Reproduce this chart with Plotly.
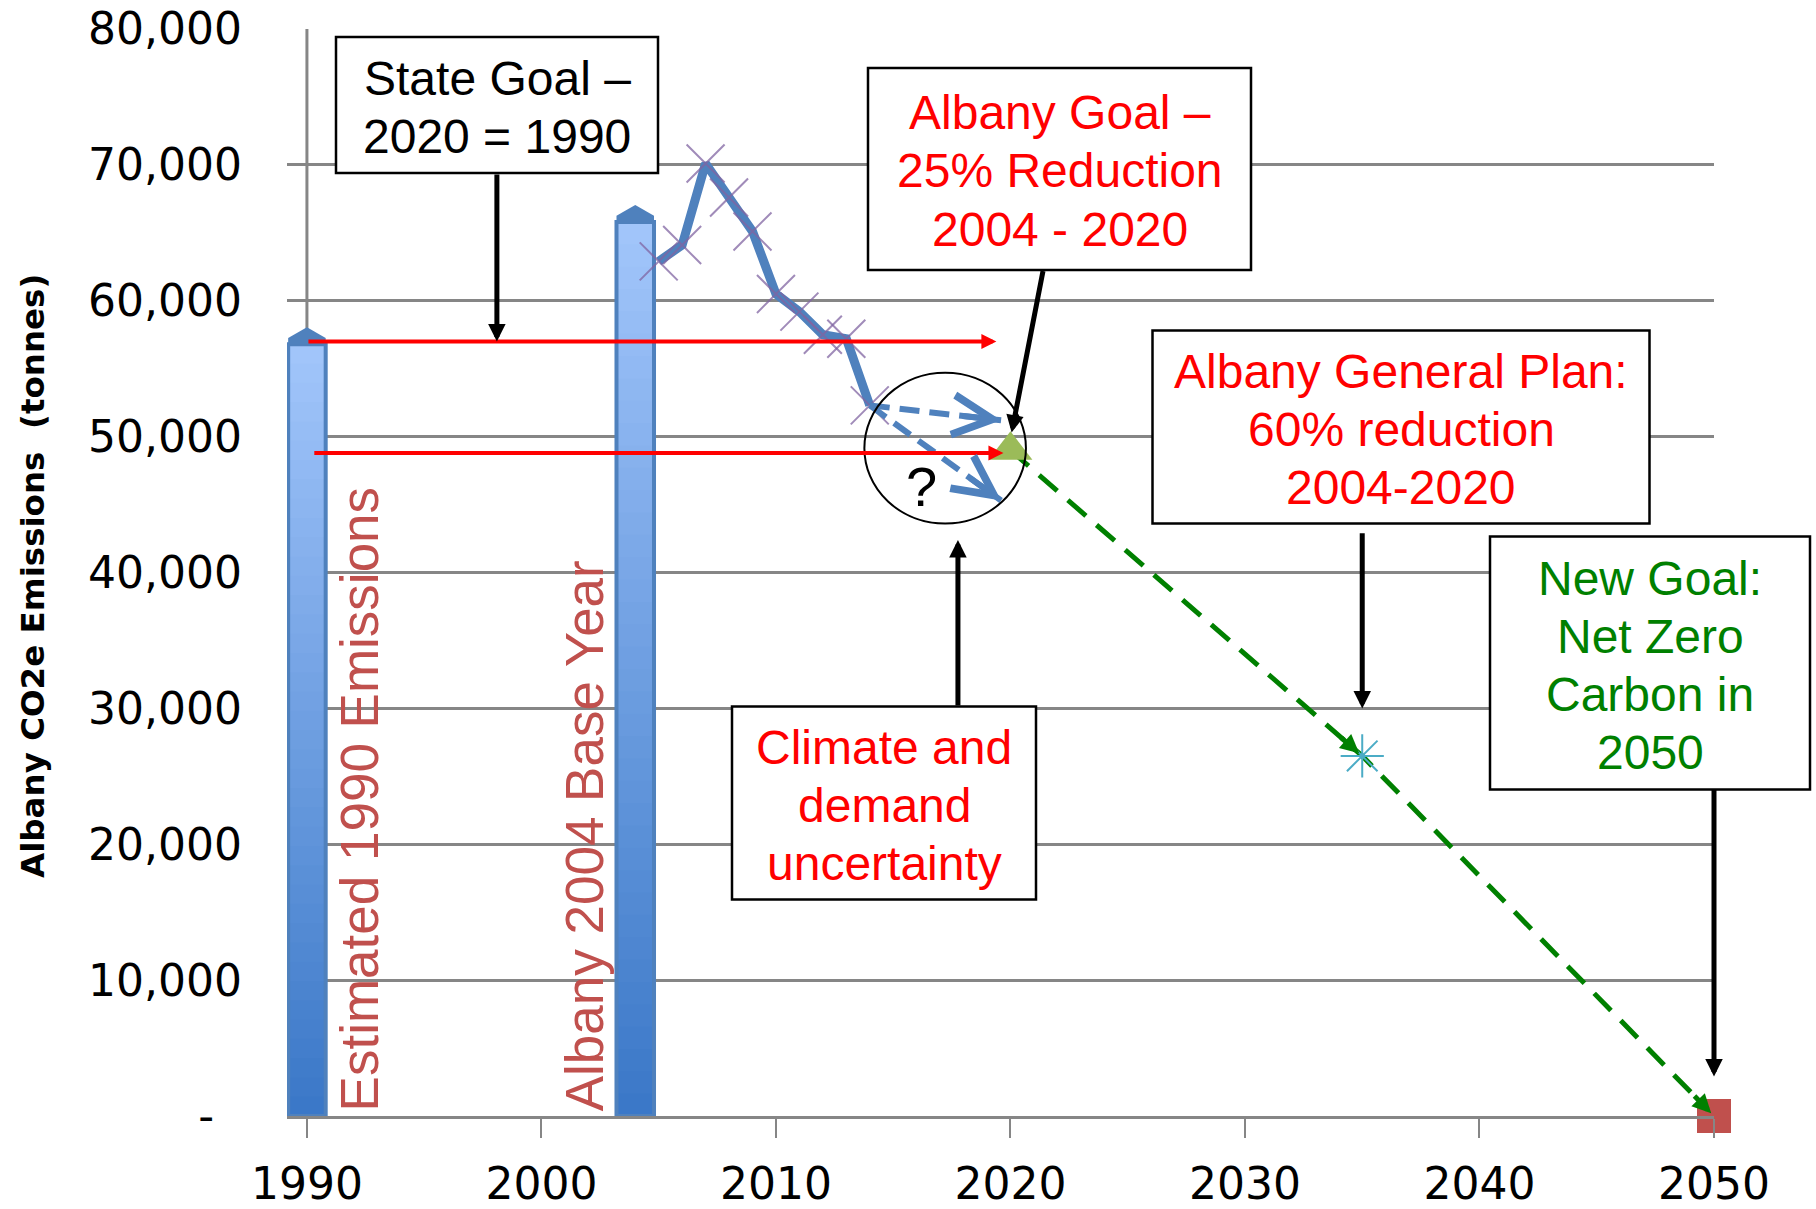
import math
import plotly.graph_objects as go

# ---------------- data ----------------
bar_years = [1990, 2004]
bar_values = [56800, 65800]

hist_years = [2005, 2006, 2007, 2008, 2009, 2010, 2011, 2012, 2013, 2014]
hist_values = [62900, 64100, 70100, 67600, 65100, 60500, 59200, 57500, 57200, 52300]

goal_years = [2020, 2035, 2050]
goal_values = [49000, 26500, 0]

state_goal_level = 57000        # 2020 = 1990 level
albany_goal_level = 48800       # 25% below 2004
proj_end_year = 2019.6
proj_high = 51200
proj_low = 45300

x_ticks = [1990, 2000, 2010, 2020, 2030, 2040, 2050]
y_ticks = [0, 10000, 20000, 30000, 40000, 50000, 60000, 70000, 80000]
y_ticktext = ["-\u00a0\u00a0"] + [f"{v:,}" for v in y_ticks[1:]]

# ---------------- layout geometry (pixels) ----------------
W, H = 1816, 1209
L, R, T, B = 287, 1714, 29, 1116
X_RANGE = [1989.15, 2050]
Y_RANGE = [0, 80000]
PX_PER_X = (R - L) / (X_RANGE[1] - X_RANGE[0])
PX_PER_Y = (B - T) / (Y_RANGE[1] - Y_RANGE[0])


def pxx(p):
    return (p - L) / (R - L)


def pxy(p):
    return (B - p) / (B - T)


fig = go.Figure()

# gradient bars built from stacked slices
N = 40
top_rgb = (162, 198, 251)
bot_rgb = (58, 119, 199)
bar_w = 1.6
for i in range(N):
    f = (i + 0.5) / N
    c = tuple(int(round(bot_rgb[k] + (top_rgb[k] - bot_rgb[k]) * f)) for k in range(3))
    h = 1.0 if i == N - 1 else 1.6
    fig.add_trace(go.Bar(
        x=bar_years, y=[v / N * h for v in bar_values], base=[v * i / N for v in bar_values],
        width=bar_w, marker=dict(color=f"rgb{c}", line=dict(width=0)),
        hoverinfo="skip", showlegend=False))
fig.add_trace(go.Bar(
    x=bar_years, y=bar_values, width=bar_w,
    marker=dict(color="rgba(0,0,0,0)", line=dict(color="#4f81bd", width=4)),
    hoverinfo="skip", showlegend=False))
# bevel caps on bar tops
for bx, bv in zip(bar_years, bar_values):
    fig.add_trace(go.Scatter(
        x=[bx - bar_w / 2, bx - bar_w / 2, bx, bx + bar_w / 2, bx + bar_w / 2],
        y=[bv, bv + 450, bv + 1250, bv + 450, bv],
        fill="toself", fillcolor="#4f81bd", mode="lines", line=dict(width=0, color="#4f81bd"),
        hoverinfo="skip", showlegend=False))

# historic line
fig.add_trace(go.Scatter(
    x=hist_years, y=hist_values, mode="lines+markers",
    line=dict(color="#4f81bd", width=9),
    marker=dict(symbol="x-thin-open", size=38, color="rgba(128,100,162,0.75)",
                line=dict(color="rgba(128,100,162,0.75)", width=2)),
    cliponaxis=False, showlegend=False))

# projection dashed lines
for end_v in (proj_high, proj_low):
    fig.add_trace(go.Scatter(
        x=[hist_years[-1], proj_end_year], y=[hist_values[-1], end_v], mode="lines",
        line=dict(color="#4f81bd", width=6, dash="20px,10px"), showlegend=False))

# goal line
fig.add_trace(go.Scatter(
    x=goal_years, y=goal_values, mode="lines",
    line=dict(color="#008000", width=5, dash="24px,14px"), cliponaxis=False, showlegend=False))
fig.add_trace(go.Scatter(
    x=[goal_years[0]], y=[goal_values[0]], mode="markers",
    marker=dict(symbol="triangle-up", size=38, color="#9bbb59"), cliponaxis=False, showlegend=False))
fig.add_trace(go.Scatter(
    x=[goal_years[1]], y=[goal_values[1]], mode="markers",
    marker=dict(symbol="asterisk-open", size=36, color="#4bacc6", line=dict(color="#4bacc6", width=2)),
    cliponaxis=False, showlegend=False))
fig.add_trace(go.Scatter(
    x=[goal_years[2]], y=[goal_values[2]], mode="markers",
    marker=dict(symbol="square", size=34, color="#c0504d"), cliponaxis=False, showlegend=False))

ann = []


def head_only(x1, y1, x0, y0, px_len):
    """tail point a fixed pixel distance back from the tip along the segment"""
    dxp = (x1 - x0) * PX_PER_X
    dyp = (y1 - y0) * PX_PER_Y
    seg = math.hypot(dxp, dyp)
    f = min(1.0, px_len / seg)
    return x1 - f * (x1 - x0), y1 - f * (y1 - y0)


# red level arrows
ann.append(dict(x=2019.4, y=state_goal_level, ax=bar_years[0], ay=state_goal_level,
                xref="x", yref="y", axref="x", ayref="y", text="", showarrow=True,
                arrowhead=2, arrowsize=0.75, arrowwidth=4, arrowcolor="#ff0000"))
ann.append(dict(x=2019.7, y=albany_goal_level, ax=bar_years[0] + 0.25, ay=albany_goal_level,
                xref="x", yref="y", axref="x", ayref="y", text="", showarrow=True,
                arrowhead=2, arrowsize=0.75, arrowwidth=4, arrowcolor="#ff0000"))

# projection arrow heads
for end_v in (proj_high, proj_low):
    tx, ty = head_only(proj_end_year, end_v, hist_years[-1], hist_values[-1], 40)
    ann.append(dict(x=proj_end_year, y=end_v, ax=tx, ay=ty,
                    xref="x", yref="y", axref="x", ayref="y", text="", showarrow=True,
                    arrowhead=5, arrowsize=1.3, arrowwidth=6, arrowcolor="#4f81bd"))

# goal line arrow heads
for i in (1, 2):
    tx, ty = head_only(goal_years[i], goal_values[i], goal_years[i - 1], goal_values[i - 1], 30)
    ann.append(dict(x=goal_years[i], y=goal_values[i], ax=tx, ay=ty,
                    xref="x", yref="y", axref="x", ayref="y", text="", showarrow=True,
                    arrowhead=2, arrowsize=0.75, arrowwidth=5, arrowcolor="#008000", standoff=4))

# black pointer arrows (tail at text box, tip at target)
black_arrows = [
    (1998.1, 69400, 1998.1, state_goal_level),
    (2021.4, 62300, 2020.05, 50300),
    (goal_years[1], 43000, goal_years[1], 30000),
    (goal_years[2], 24100, goal_years[2], 2900),
    (2017.76, 30100, 2017.76, 42400),
]
for tx, ty, hx, hy in black_arrows:
    ann.append(dict(x=hx, y=hy, ax=tx, ay=ty, xref="x", yref="y", axref="x", ayref="y",
                    text="", showarrow=True, arrowhead=2, arrowsize=0.7, arrowwidth=5,
                    arrowcolor="#000000"))

# text boxes: rectangle shape + one annotation per line
FONT = "Liberation Sans, Arial, sans-serif"
LINE_GAP = 58
boxes = [
    (["State Goal \u2013", "2020 = 1990"], "#000000", 497, 105, 322, 136),
    (["Albany Goal \u2013", "25% Reduction", "2004 - 2020"], "#ff0000", 1059.5, 169, 383, 202),
    (["Albany General Plan:", "60% reduction", "2004-2020"], "#ff0000", 1401, 427, 497, 193),
    (["New Goal:", "Net Zero", "Carbon in", "2050"], "#008000", 1650, 663, 320, 253),
    (["Climate and", "demand", "uncertainty"], "#ff0000", 884, 803, 304, 193),
]
shapes = [
    dict(type="line", xref="x", yref="y", x0=x_ticks[0], x1=x_ticks[0], y0=y_ticks[0], y1=y_ticks[-1],
         line=dict(color="#868686", width=3), layer="below"),
    dict(type="circle", xref="x", yref="y", x0=2013.77, x1=2020.66, y0=43600, y1=54700,
         line=dict(color="#000000", width=2), layer="above"),
]
for lines, col, cx, cy, bw, bh in boxes:
    shapes.append(dict(type="rect", xref="paper", yref="paper",
                       x0=pxx(cx - bw / 2), x1=pxx(cx + bw / 2), y0=pxy(cy + bh / 2), y1=pxy(cy - bh / 2),
                       fillcolor="#ffffff", line=dict(color="#000000", width=2.5), layer="above"))
    n = len(lines)
    for i, ln in enumerate(lines):
        ly = cy + (i - (n - 1) / 2) * LINE_GAP + 2
        ann.append(dict(x=pxx(cx), y=pxy(ly), xref="paper", yref="paper", text=ln,
                        showarrow=False, xanchor="center", yanchor="middle",
                        font=dict(family=FONT, size=48, color=col)))

# rotated bar labels
ann.append(dict(x=bar_years[0] + 2.26, y=0, xref="x", yref="y", yshift=3,
                text="Estimated 1990 Emissions", textangle=-90, showarrow=False,
                xanchor="center", yanchor="bottom",
                font=dict(family=FONT, size=53, color="#c0504d")))
ann.append(dict(x=bar_years[1] - 2.15, y=0, xref="x", yref="y", yshift=3,
                text="Albany 2004 Base Year", textangle=-90, showarrow=False,
                xanchor="center", yanchor="bottom",
                font=dict(family=FONT, size=53, color="#c0504d")))

# question mark
ann.append(dict(x=2016.2, y=46300, xref="x", yref="y", text="?", showarrow=False,
                font=dict(family=FONT, size=56, color="#000000")))

# y axis title
ann.append(dict(x=pxx(33), y=pxy(576), xref="paper", yref="paper",
                text="<b>Albany CO2e Emissions  (tonnes)</b>", textangle=-90, showarrow=False,
                xanchor="center", yanchor="middle",
                font=dict(family="DejaVu Sans", size=32.5, color="#000000")))

fig.update_layout(
    width=W, height=H,
    margin=dict(l=L, r=W - R, t=T, b=H - B, autoexpand=False),
    paper_bgcolor="#ffffff", plot_bgcolor="#ffffff",
    showlegend=False, barmode="overlay",
    annotations=ann, shapes=shapes,
    xaxis=dict(range=X_RANGE, tickvals=x_ticks, ticktext=[str(v) for v in x_ticks],
               ticks="outside", ticklen=19, tickwidth=2, tickcolor="#868686",
               showgrid=False, zeroline=False, showline=True, linecolor="#868686", linewidth=3,
               ticklabelstandoff=8, automargin=False,
               tickfont=dict(family="DejaVu Sans", size=44, color="#000000")),
    yaxis=dict(range=Y_RANGE, tickvals=y_ticks, ticktext=y_ticktext,
               showgrid=True, gridcolor="#868686", gridwidth=3, zeroline=False,
               showline=False, ticks="", ticklabelstandoff=44, automargin=False,
               tickfont=dict(family="DejaVu Sans", size=44, color="#000000")),
)

fig.write_html("out.html")
